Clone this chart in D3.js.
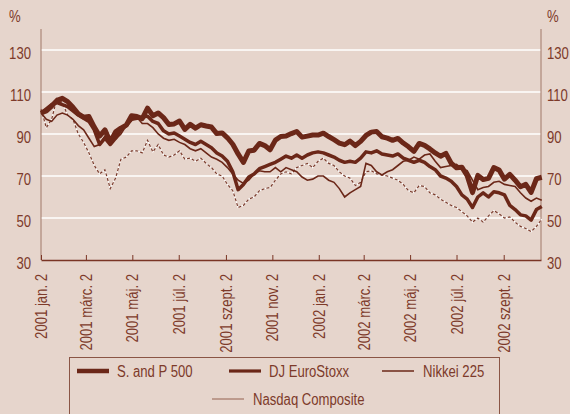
<!DOCTYPE html>
<html>
<head>
<meta charset="utf-8">
<script src="https://cdn.jsdelivr.net/npm/d3@7"></script>
<style>
  body { margin: 0; background: #e6d5cc; }
  svg { display: block; }
  text { font-family: 'Liberation Sans', Arial, sans-serif; }
</style>
</head>
<body>
<svg width="570" height="414"></svg>
<script>
// weekly values, index 100 = start of 2001
const seriesNames = ["S. and P 500", "DJ EuroStoxx", "Nikkei 225", "Nasdaq Composite"];

const sp500 = [
  100, 101, 103.3, 106, 107, 105.4, 102.7, 99.6, 98, 98.3,
  93.3, 89, 92, 86.2, 91, 92.8, 94.2, 98.7, 98.3, 97.3,
  102.3, 98.7, 100, 97.8, 94.5, 94.8, 96.2, 92.2, 94.6, 92.8,
  94.4, 93.8, 93.3, 90.2, 90.5, 88.2, 85.1, 80.5, 76.5, 81.9,
  82.3, 85.5, 84.5, 82.5, 87.1, 88.8, 89, 90.2, 91.2, 88.5,
  89, 89.5, 89.5, 90.4, 88.8, 87.3, 85.7, 84.9, 86.6, 84.5,
  86.5, 89.3, 90.9, 91.2, 88.7, 88, 87, 87.9, 85.7, 83.9,
  81.7, 85.5, 84.6, 82.9, 81, 79.4, 80.8, 76.1, 73.9, 74.2,
  70.1, 62.1, 70.3, 68.3, 68.9, 74, 72.8, 68.5, 70.8, 68,
  64.9, 66, 62.2, 68.7, 69.4
];

const euroStoxx = [
  100, 102, 104, 105, 104, 103, 101, 99, 97.5, 96,
  92, 85, 88, 85, 88, 92, 94, 97, 97.5, 98,
  98.5, 96, 95, 91.5, 90, 90.5, 89, 87.5, 86, 85,
  86.5, 85, 83.5, 81, 79.5, 77, 72, 63.5, 66, 69.5,
  71, 73.5, 74.5, 75.5, 76.5, 78, 79.5, 78.5, 80, 78.5,
  80, 81, 81.5, 81, 80, 79, 77.5, 76.5, 77, 76.5,
  78.5, 81.5, 81, 82, 80.5, 80, 79.5, 80.5, 78.5, 77.5,
  76.5, 77.5, 76.5, 74.5, 73, 70, 69, 67.5, 65, 61,
  59, 55, 60, 62, 60, 62.5, 62, 61, 56, 54,
  51.5, 51, 49, 54, 55.5
];

const nikkei = [
  100, 97, 96, 99, 100, 99, 97, 94, 92, 88,
  84, 85, 89, 87, 87.5, 90, 94, 96.5, 98, 95,
  95, 93, 90, 88, 87, 87.5, 86, 85, 83, 82,
  83, 81, 79, 78, 76.5, 74, 71, 68, 66.5, 68,
  71, 72.5, 72, 72, 74, 72, 74, 73, 72, 69.5,
  68, 68.5, 70, 70, 68, 67, 64, 60, 62, 63.5,
  65, 76, 75, 72, 70.5, 72, 73, 75, 77, 77.5,
  79, 78, 80, 80.5, 77, 74, 74.5, 75, 75.5, 73.5,
  72.5, 68, 63.5, 64.5, 65, 67, 67.5, 66, 65.5, 65,
  62, 59.5, 58, 59.5, 58.5
];

const nasdaq = [
  102, 93, 97, 107, 105, 99, 97, 90, 86, 81,
  75, 71, 73, 64, 69, 78, 79, 82, 82, 81,
  87, 81.5, 85, 80, 79, 80, 82, 78, 78.5, 77,
  78.5, 76, 74, 71, 70, 66, 63, 55, 56, 59,
  60, 63, 64, 64.5, 68, 71, 72, 71, 74, 75,
  76, 74, 77, 78.5, 76, 75, 72, 70, 69, 65.5,
  67, 72, 72.5, 71, 70.5, 70, 69, 68, 66, 63,
  62, 65.5, 65, 62, 61, 59, 57.5, 56, 55, 53,
  51, 48, 50, 48, 51, 53.5, 52, 50, 50.5, 48,
  46, 45, 43.5, 46, 49.5
];

const yTicks = [30, 50, 70, 90, 110, 130];
const tickDates = ["2001-01-02", "2001-03-02", "2001-05-02", "2001-07-02", "2001-09-02", "2001-11-02",
                   "2002-01-02", "2002-03-02", "2002-05-02", "2002-07-02", "2002-09-02"];

const parse = d3.timeParse("%Y-%m-%d");
const startDate = parse("2001-01-02");
const dates = sp500.map((_, i) => d3.timeDay.offset(startDate, 7 * i));

const hu = d3.timeFormatLocale({
  dateTime: "%Y. %B %-e. %X", date: "%Y. %m. %d.", time: "%H:%M:%S", periods: ["de.", "du."],
  days: ["vasárnap", "hétfő", "kedd", "szerda", "csütörtök", "péntek", "szombat"],
  shortDays: ["V", "H", "K", "Sze", "Cs", "P", "Szo"],
  months: ["január", "február", "március", "április", "május", "június", "július", "augusztus", "szeptember", "október", "november", "december"],
  shortMonths: ["jan.", "febr.", "márc.", "ápr.", "máj.", "jún.", "júl.", "aug.", "szept.", "okt.", "nov.", "dec."]
});
const fmt = hu.format("%Y %b %-d");

const ink = "#6b2718", textCol = "#7d3a2a";
const sq = 0.82; // narrow the Arial-like font horizontally
const svg = d3.select("svg");

const x = d3.scaleTime().domain([startDate, parse("2002-10-21")]).range([41, 541]);
const y = d3.scaleLinear().domain([30, 140]).range([260, 29]);

// grid
svg.append("g").selectAll("line")
  .data(yTicks.slice(1))
  .enter().append("line")
  .attr("x1", 41).attr("x2", 541)
  .attr("y1", d => y(d)).attr("y2", d => y(d))
  .style("stroke", "#fff").style("stroke-width", 1.5);

// side axes
[[41, "axisLeft", -10], [541, "axisRight", 6]].forEach(([pos, kind, off]) => {
  const g = svg.append("g").attr("transform", `translate(${pos},0)`)
    .call(d3[kind](y).tickValues(yTicks).tickSize(0));
  g.select(".domain").remove();
  g.append("line").attr("y1", y(140)).attr("y2", y(30))
    .style("stroke", "#a07868").style("stroke-width", 1);
  g.selectAll("text").attr("x", off / sq).attr("dy", "0.5em")
    .attr("transform", `scale(${sq},1)`)
    .style("font-size", "16px").style("fill", textCol);
  g.append("text").attr("x", (kind == "axisLeft" ? -32 : 6) / sq).attr("y", 22)
    .attr("transform", `scale(${sq},1)`)
    .attr("text-anchor", "start")
    .style("font-size", "16px").style("fill", textCol).text("%");
});

// bottom axis
const xa = svg.append("g").attr("transform", "translate(0,260)")
  .call(d3.axisBottom(x).tickValues(tickDates.map(parse)).tickSizeInner(-5).tickSizeOuter(0).tickFormat(fmt));
xa.select(".domain").style("stroke", "#7a3525").style("stroke-width", 1.3);
xa.selectAll(".tick line").style("stroke", "#7a3525");
xa.selectAll("text")
  .attr("transform", `rotate(-90) scale(${sq},1)`)
  .attr("x", -14 / sq).attr("y", 0).attr("dy", "0.35em")
  .style("text-anchor", "end")
  .style("font-size", "16px").style("fill", textCol);

// lines
const line = d3.line().x((d, i) => x(dates[i])).y(d => y(d));

svg.append("path").datum(nasdaq).attr("d", line)
  .style("fill", "none").style("stroke", "#fff").style("stroke-width", 1.2);
svg.append("path").datum(nasdaq).attr("d", line)
  .style("fill", "none").style("stroke", "#7a3a2a").style("stroke-width", 1.2)
  .style("stroke-dasharray", "3,2");
svg.append("path").datum(nikkei).attr("d", line)
  .style("fill", "none").style("stroke", ink).style("stroke-width", 1.6);
svg.append("path").datum(euroStoxx).attr("d", line)
  .style("fill", "none").style("stroke", ink).style("stroke-width", 3.5)
  .style("stroke-linejoin", "round");
svg.append("path").datum(sp500).attr("d", line)
  .style("fill", "none").style("stroke", ink).style("stroke-width", 5)
  .style("stroke-linejoin", "round");

// legend
svg.append("rect").attr("x", 69.5).attr("y", 357.5).attr("width", 430).attr("height", 80)
  .style("fill", "none").style("stroke", "#8a5545").style("stroke-width", 1);

const legendPos = [[77, 371, 4.5, ink], [229, 371, 3.2, ink], [382, 371, 1.5, ink], [212, 399, 1, "#94604e"]];
const lg = svg.append("g").selectAll("g")
  .data(seriesNames)
  .enter().append("g")
  .attr("transform", (d, i) => `translate(${legendPos[i][0]},${legendPos[i][1]})`);
lg.append("line").attr("x1", 0).attr("x2", 32)
  .style("stroke", (d, i) => legendPos[i][3])
  .style("stroke-width", (d, i) => legendPos[i][2]);
lg.append("text").attr("x", (d, i) => (i >= 2 ? 41 : 40) / sq).attr("dy", "0.36em")
  .attr("transform", `scale(${sq},1)`)
  .style("font-size", "16px").style("fill", textCol)
  .text(d => d);
</script>
</body>
</html>
